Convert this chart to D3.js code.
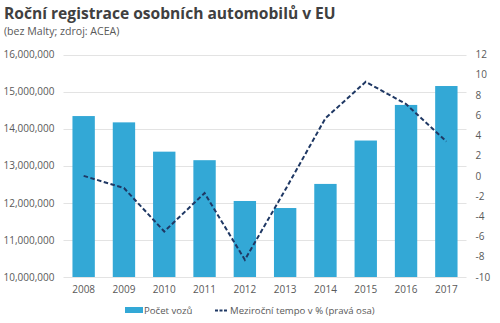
<!DOCTYPE html>
<html>
<head>
<meta charset="utf-8">
<script src="https://cdn.jsdelivr.net/npm/d3@7"></script>
<style>
  body { margin: 0; background: #fff; }
  svg text { font-family: "Open Sans", "Noto Sans", sans-serif; }
</style>
</head>
<body>
<div class="chart"></div>
<script>
const years = ['2008', '2009', '2010', '2011', '2012', '2013', '2014', '2015', '2016', '2017'];
const cars = [14340000, 14170000, 13380000, 13150000, 12050000, 11860000, 12510000, 13680000, 14640000, 15150000];
const growth = [0.0, -1.2, -5.5, -1.7, -8.3, -1.4, 5.7, 9.3, 7.1, 3.4];
const leftTicks = [10000000, 11000000, 12000000, 13000000, 14000000, 15000000, 16000000];
const rightTicks = [-10, -8, -6, -4, -2, 0, 2, 4, 6, 8, 10, 12];

const width = 500;
const height = 323;
const plot = { left: 63.5, right: 466.5, top: 54.5, bottom: 277 };

const svg = d3.select('.chart')
  .append('svg')
  .attr('width', width)
  .attr('height', height);

const xScale = d3.scaleBand()
  .domain(years)
  .range([plot.left, plot.right])
  .paddingInner(0.445)
  .paddingOuter(0.2225);

const yLeft = d3.scaleLinear()
  .domain([10000000, 16000000])
  .range([plot.bottom, plot.top]);

const yRight = d3.scaleLinear()
  .domain([-10, 12])
  .range([plot.bottom, plot.top]);

// gridlines
svg.append('g')
  .selectAll('line')
  .data(leftTicks)
  .join('line')
  .attr('x1', plot.left)
  .attr('x2', plot.right)
  .attr('y1', d => Math.round(yLeft(d)) + 0.5)
  .attr('y2', d => Math.round(yLeft(d)) + 0.5)
  .attr('stroke', '#e3e3e3')
  .attr('stroke-width', 1);

// bars
svg.append('g')
  .selectAll('rect')
  .data(years)
  .join('rect')
  .attr('x', (d, i) => xScale(d))
  .attr('width', xScale.bandwidth())
  .attr('y', (d, i) => yLeft(cars[i]))
  .attr('height', (d, i) => yLeft(10000000) - yLeft(cars[i]))
  .attr('fill', '#33a8d6');

// left axis
const leftAxis = svg.append('g')
  .attr('transform', `translate(${plot.left - 9}, 0)`)
  .call(d3.axisLeft(yLeft).tickValues(leftTicks).tickSize(0).tickPadding(0)
    .tickFormat(d3.format(',')));
leftAxis.select('.domain').remove();

// right axis
const rightAxis = svg.append('g')
  .attr('transform', `translate(${plot.right + 9}, 0)`)
  .call(d3.axisRight(yRight).tickValues(rightTicks).tickSize(0).tickPadding(0)
    .tickFormat(d => d < 0 ? '-' + Math.abs(d) : d));
rightAxis.select('.domain').remove();

// bottom axis
const bottomAxis = svg.append('g')
  .attr('transform', `translate(0, ${plot.bottom})`)
  .call(d3.axisBottom(xScale).tickSize(0).tickPadding(9));
bottomAxis.select('.domain').remove();

svg.selectAll('.tick text')
  .attr('fill', '#595959')
  .style('font-size', '10px')
  .style('font-family', '"Open Sans", sans-serif');

// line on right axis
const line = d3.line()
  .x((d, i) => xScale(years[i]) + xScale.bandwidth() / 2)
  .y(d => yRight(d));

svg.append('path')
  .datum(growth)
  .attr('d', line)
  .attr('fill', 'none')
  .attr('stroke', '#1f3864')
  .attr('stroke-width', 2)
  .attr('stroke-dasharray', '4.5,2.5');

// title
svg.append('text')
  .attr('x', 4)
  .attr('y', 19)
  .attr('fill', '#404040')
  .style('font-size', '15.6px')
  .style('font-weight', 'bold')
  .text('Roční registrace osobních automobilů v EU');

svg.append('text')
  .attr('x', 4)
  .attr('y', 35)
  .attr('fill', '#595959')
  .style('font-size', '10.6px')
  .text('(bez Malty; zdroj: ACEA)');

// legend
const legend = svg.append('g');
legend.append('rect')
  .attr('x', 125)
  .attr('y', 307)
  .attr('width', 18)
  .attr('height', 6)
  .attr('fill', '#33a8d6');
legend.append('text')
  .attr('x', 144)
  .attr('y', 314)
  .attr('fill', '#595959')
  .style('font-size', '9.6px')
  .text('Počet vozů');
legend.append('line')
  .attr('x1', 215)
  .attr('x2', 227)
  .attr('y1', 310.5)
  .attr('y2', 310.5)
  .attr('stroke', '#1f3864')
  .attr('stroke-width', 2)
  .attr('stroke-dasharray', '3,1.5');
legend.append('text')
  .attr('x', 230)
  .attr('y', 314)
  .attr('fill', '#595959')
  .style('font-size', '9.6px')
  .text('Meziroční tempo v % (pravá osa)');
</script>
</body>
</html>
